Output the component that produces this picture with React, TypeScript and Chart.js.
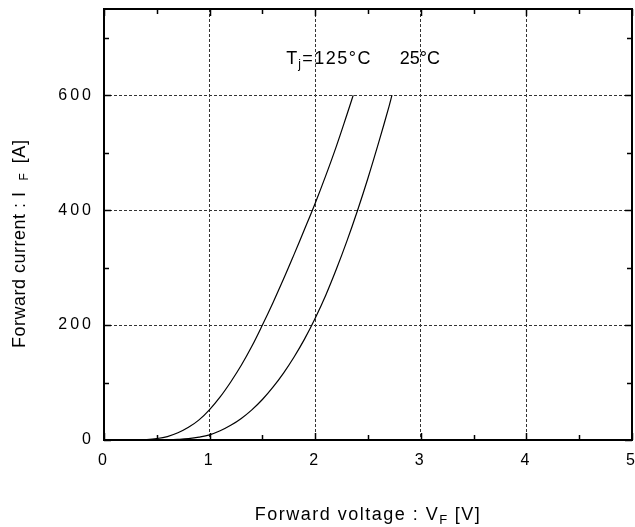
import { useEffect, useRef } from 'react';
import { Chart, registerables } from 'chart.js';

Chart.register(...registerables);

// ---- data ----
const voltage125 = [0, 0.3, 0.4, 0.5, 0.6, 0.7, 0.8, 0.9, 1.0, 1.1, 1.2, 1.3, 1.4, 1.5, 1.6, 1.7, 1.8, 1.9, 2.0, 2.1, 2.2, 2.3, 2.36];
const current125 = [0, 0.2, 0.8, 2.5, 6, 12.5, 22, 35, 53, 75, 101, 130, 163, 200, 239, 280, 323, 367, 412, 460, 511, 566, 600];
const voltage25 = [0, 0.5, 0.6, 0.7, 0.8, 0.9, 1.0, 1.1, 1.2, 1.3, 1.4, 1.5, 1.6, 1.7, 1.8, 1.9, 2.0, 2.1, 2.2, 2.3, 2.4, 2.5, 2.6, 2.7, 2.727];
const current25 = [0, 0.2, 0.5, 1.2, 2.5, 5, 9, 16, 25.5, 37.5, 52.5, 70.5, 92, 116.5, 144.5, 176, 212, 252, 297, 346, 399, 456, 517, 581, 600];

const xTickValues = [0, 1, 2, 3, 4, 5];
const yTickValues = [0, 200, 400, 600];
const xMinorStep = 0.5;
const yMinorStep = 100;
const xMin = 0;
const xMax = 5;
const yMin = 0;
const yMax = 750;

const labelTj = { x: 1.725, y: 655 };
const label25 = { x: 2.8, y: 655 };

const FONT = "'Liberation Sans', Arial, sans-serif";

type Part = { t: string; size: number; dy?: number; ls?: number; gap?: number };

function measureParts(ctx: CanvasRenderingContext2D, parts: Part[]) {
  let w = 0;
  for (const p of parts) {
    if (p.gap) { w += p.gap; continue; }
    ctx.font = `${p.size}px ${FONT}`;
    (ctx as any).letterSpacing = `${p.ls ?? 0}px`;
    w += ctx.measureText(p.t).width;
  }
  return w;
}

function drawParts(ctx: CanvasRenderingContext2D, parts: Part[], x: number, y: number) {
  let cx = x;
  ctx.textAlign = 'left';
  ctx.textBaseline = 'alphabetic';
  for (const p of parts) {
    if (p.gap) { cx += p.gap; continue; }
    ctx.font = `${p.size}px ${FONT}`;
    (ctx as any).letterSpacing = `${p.ls ?? 0}px`;
    ctx.fillText(p.t, cx, y + (p.dy ?? 0));
    cx += ctx.measureText(p.t).width;
  }
}

const decorPlugin = {
  id: 'decor',
  beforeDraw(chart: any) {
    (chart.ctx as any).letterSpacing = '3px';
  },
  afterDraw(chart: any) {
    const ctx: CanvasRenderingContext2D = chart.ctx;
    const { left, right, top, bottom } = chart.chartArea;
    const xs = chart.scales.x;
    const ys = chart.scales.y;
    ctx.save();
    (ctx as any).letterSpacing = '0px';
    ctx.strokeStyle = '#000';
    ctx.setLineDash([]);

    // inward ticks (major + minor)
    ctx.lineWidth = 1.5;
    ctx.beginPath();
    for (let v = xMin; v <= xMax + 1e-9; v += xMinorStep) {
      const major = xTickValues.some((t) => Math.abs(t - v) < 1e-9);
      const len = major ? 7 : 5;
      const px = Math.round(xs.getPixelForValue(v)) + 0.5;
      ctx.moveTo(px, bottom);
      ctx.lineTo(px, bottom - len);
      ctx.moveTo(px, top);
      ctx.lineTo(px, top + len);
    }
    for (let v = yMin; v <= yMax + 1e-9; v += yMinorStep) {
      const major = yTickValues.some((t) => Math.abs(t - v) < 1e-9);
      const len = major ? 7 : 5;
      const py = Math.round(ys.getPixelForValue(v)) + 0.5;
      ctx.moveTo(left, py);
      ctx.lineTo(left + len, py);
      ctx.moveTo(right, py);
      ctx.lineTo(right - len, py);
    }
    ctx.stroke();

    // frame
    ctx.lineWidth = 2;
    ctx.strokeRect(left, top, right - left, bottom - top);

    ctx.fillStyle = '#000';
    // annotation
    const ax = xs.getPixelForValue(labelTj.x);
    const ay = ys.getPixelForValue(labelTj.y);
    drawParts(ctx, [
      { t: 'T', size: 18, ls: 1 },
      { t: 'j', size: 12, dy: 4, ls: 1.5 },
      { t: '=125°C', size: 18, ls: 1.5 },
    ], ax, ay);
    drawParts(ctx, [{ t: '25°C', size: 18, ls: 0 }], xs.getPixelForValue(label25.x), ys.getPixelForValue(label25.y));

    // x title
    const xParts: Part[] = [
      { t: 'Forward voltage : V', size: 18, ls: 1.5 },
      { t: 'F', size: 13, dy: 4, ls: 1 },
      { t: ' [V]', size: 18, ls: 1.5 },
    ];
    const xw = measureParts(ctx, xParts);
    drawParts(ctx, xParts, (left + right) / 2 - xw / 2, 520);

    // y title (rotated)
    ctx.save();
    ctx.translate(25, bottom - 92);
    ctx.rotate(-Math.PI / 2);
    drawParts(ctx, [
      { t: 'Forward current : I', size: 18, ls: 0.5 },
      { t: '', size: 0, gap: 11 },
      { t: 'F', size: 12, dy: 3, ls: 0 },
      { t: '', size: 0, gap: 10 },
      { t: '[A]', size: 18, ls: 0.5 },
    ], 0, 0);
    ctx.restore();

    ctx.restore();
  },
};

export default function App() {
  const ref = useRef<HTMLCanvasElement | null>(null);

  useEffect(() => {
    if (!ref.current) return;
    const data125 = voltage125.map((v, i) => ({ x: v, y: current125[i] }));
    const data25 = voltage25.map((v, i) => ({ x: v, y: current25[i] }));
    const chart = new Chart(ref.current, {
      type: 'line',
      data: {
        datasets: [
          {
            label: 'Tj=125°C',
            data: data125,
            borderColor: '#000',
            borderWidth: 1.2,
            pointRadius: 0,
            fill: false,
            tension: 0.4,
          },
          {
            label: 'Tj=25°C',
            data: data25,
            borderColor: '#000',
            borderWidth: 1.2,
            pointRadius: 0,
            fill: false,
            tension: 0.4,
          },
        ],
      },
      options: {
        animation: false,
        responsive: false,
        devicePixelRatio: 1,
        layout: { padding: { left: 0, top: 9, right: 3, bottom: 0 } },
        plugins: {
          legend: { display: false },
          tooltip: { enabled: false },
        },
        scales: {
          x: {
            type: 'linear',
            min: xMin,
            max: xMax,
            afterFit(s: any) {
              s.height = 87;
              s.paddingLeft = 0;
              s.paddingRight = 0;
            },
            afterBuildTicks(s: any) {
              s.ticks = xTickValues.map((v) => ({ value: v }));
            },
            ticks: {
              autoSkip: false,
              maxRotation: 0,
              padding: 11,
              color: '#000',
              font: { family: FONT, size: 16 },
            },
            grid: {
              color: (c: any) => (c.tick && (c.tick.value === xMin || c.tick.value === xMax) ? 'rgba(0,0,0,0)' : '#333'),
              lineWidth: 1,
              drawTicks: false,
            },
            border: { display: false, dash: [3, 2] },
          },
          y: {
            type: 'linear',
            min: yMin,
            max: yMax,
            afterFit(s: any) {
              s.width = 104;
              s.paddingTop = 0;
              s.paddingBottom = 0;
            },
            afterBuildTicks(s: any) {
              s.ticks = yTickValues.map((v) => ({ value: v }));
            },
            ticks: {
              padding: 10,
              color: '#000',
              font: { family: FONT, size: 16 },
            },
            grid: {
              color: (c: any) => (c.tick && c.tick.value === yMin ? 'rgba(0,0,0,0)' : '#333'),
              lineWidth: 1,
              drawTicks: false,
            },
            border: { display: false, dash: [3, 2] },
          },
        },
      },
      plugins: [decorPlugin],
    } as any);
    return () => chart.destroy();
  }, []);

  return (
    <div style={{ position: 'fixed', left: 0, top: 0, width: 635, height: 527, background: '#fff' }}>
      <canvas ref={ref} width={635} height={527} style={{ width: 635, height: 527, display: 'block' }} />
    </div>
  );
}
